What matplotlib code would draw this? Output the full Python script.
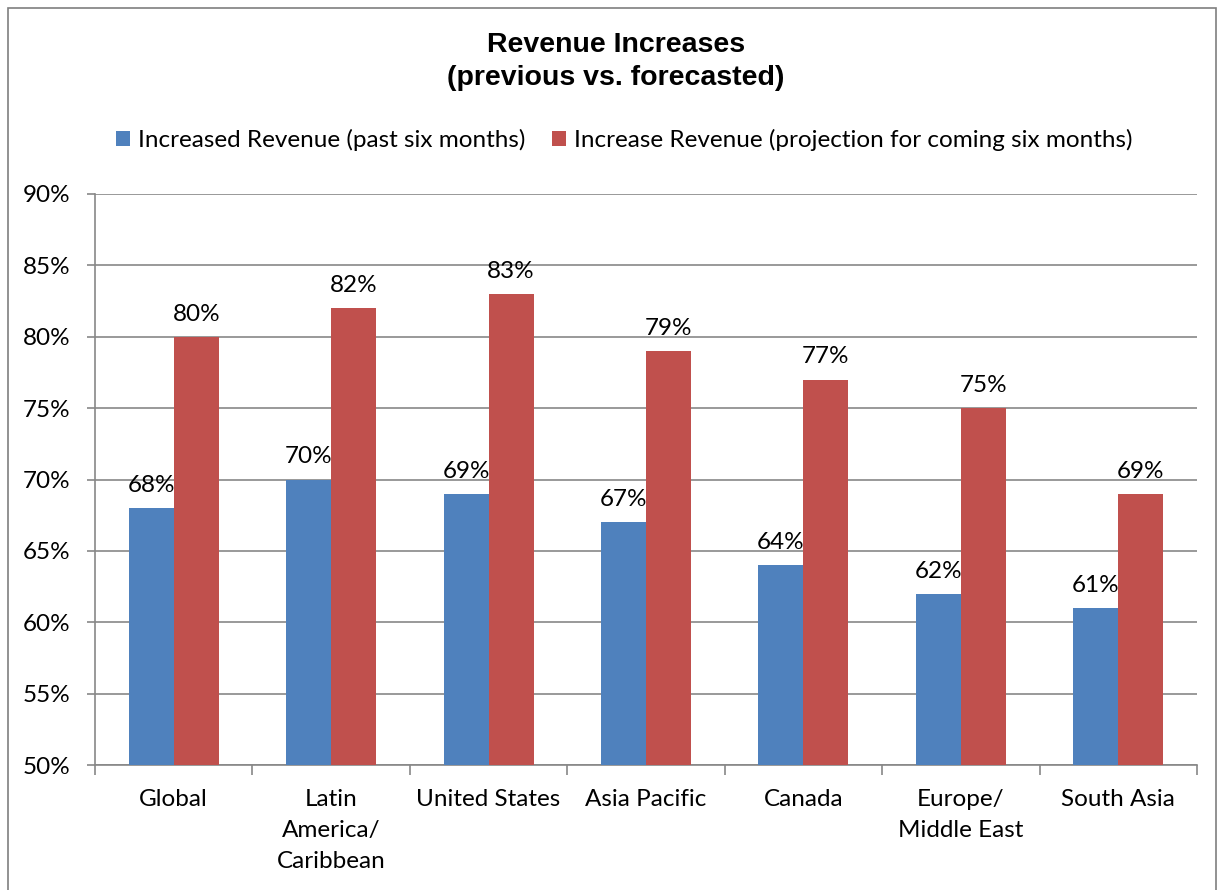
import matplotlib.pyplot as plt
import numpy as np
from matplotlib.patches import Rectangle

# Data
regions = ["Global", "Latin\nAmerica/\nCaribbean", "United States", "Asia Pacific",
           "Canada", "Europe/\nMiddle East", "South Asia"]
past_six = [68, 70, 69, 67, 64, 62, 61]
next_six = [80, 82, 83, 79, 77, 75, 69]
series_names = ["Increased Revenue (past six months)",
                "Increase Revenue (projection for coming six months)"]
y_ticks = [50, 55, 60, 65, 70, 75, 80, 85, 90]

BLUE = "#4F81BD"
RED = "#C0504D"
GRID = "#878787"
FS = 17.5

plt.rcParams["font.family"] = ["Lato", "DejaVu Sans"]

W, H = 1217, 890
fig = plt.figure(figsize=(W / 100, H / 100), dpi=100)
ax = fig.add_axes([95 / W, 1 - 765 / H, (1197 - 95) / W, (765 - 194) / H])

# Outer chart border
fig.patches.append(Rectangle((8 / W, -0.05), 1 - 9 / W, 1 - 8 / H + 0.05,
                             transform=fig.transFigure, fill=False,
                             edgecolor="#7f7f7f", linewidth=1.2))

x = np.arange(len(regions))
bw = 0.286
b1 = ax.bar(x - bw / 2, past_six, bw, color=BLUE, label=series_names[0], zorder=3)
b2 = ax.bar(x + bw / 2, next_six, bw, color=RED, label=series_names[1], zorder=3)

for bars, vals in ((b1, past_six), (b2, next_six)):
    for rect, v in zip(bars, vals):
        ax.text(rect.get_x() + rect.get_width() / 2, v + 0.85, f"{v}%",
                ha="center", va="bottom", fontsize=FS, color="black")

ax.set_ylim(50, 90)
ax.set_xlim(-0.5, len(regions) - 0.5)
ax.set_yticks(y_ticks)
ax.set_yticklabels([f"{t}%" for t in y_ticks], fontsize=FS)
ax.yaxis.grid(True, color=GRID, linewidth=1.2, zorder=0)
ax.set_axisbelow(True)

# Category labels centered, ticks at boundaries
ax.set_xticks(x)
ax.set_xticklabels(regions, fontsize=FS, linespacing=1.6)
ax.tick_params(axis="x", length=0, pad=17)
ax.set_xticks(np.arange(len(regions) + 1) - 0.5, minor=True)
ax.tick_params(axis="x", which="minor", length=7, width=1.2, color=GRID, direction="out")
ax.tick_params(axis="y", length=6, width=1.2, color=GRID, pad=12)

for side in ("top", "right"):
    ax.spines[side].set_visible(False)
for side in ("left", "bottom"):
    ax.spines[side].set_color(GRID)
    ax.spines[side].set_linewidth(1.2)

fig.text(616 / W, 1 - 61.5 / H, "Revenue Increases\n(previous vs. forecasted)",
         ha="center", va="center", fontsize=20.5, fontweight="bold",
         family=["Liberation Sans", "DejaVu Sans"], linespacing=1.37)

fig.legend(handles=[b1, b2], loc="center", bbox_to_anchor=(624 / W, 1 - 140 / H),
           ncol=2, frameon=False, fontsize=FS, handlelength=0.6, handleheight=0.6,
           handletextpad=0.3, columnspacing=1.1)

fig.savefig("out.png", dpi=100)
